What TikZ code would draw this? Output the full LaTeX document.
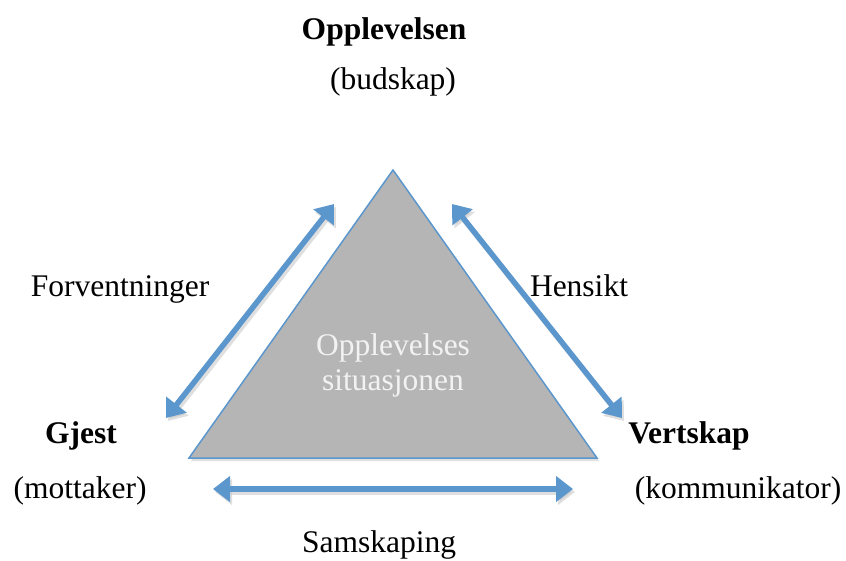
\documentclass[tikz,border=0pt]{standalone}
\usepackage{fontspec}
\setmainfont{Liberation Serif}
\usetikzlibrary{arrows.meta}
\definecolor{arrblue}{RGB}{91,150,205}
\definecolor{trigray}{RGB}{181,181,181}
\definecolor{lighttext}{RGB}{242,242,242}
\begin{document}
\begin{tikzpicture}[x=1pt,y=-1pt,
  lbl/.style={anchor=base,inner sep=0pt,font=\fontsize{31.5}{36}\selectfont},
  blbl/.style={lbl,font=\fontsize{31.5}{36}\selectfont\bfseries},
  inlbl/.style={lbl,text=lighttext},
  dbl/.style={draw=arrblue,line width=5.5pt,
    {Triangle[length=17pt,width=25pt]}-{Triangle[length=17pt,width=25pt]}},
  shadowline/.style={draw=black!25,line width=5.5pt,opacity=0.5,
    {Triangle[length=17pt,width=25pt]}-{Triangle[length=17pt,width=25pt]}}]
\useasboundingbox (0,0) rectangle (846,560);
% triangle
\coordinate (apex) at (393,170);
\coordinate (bl) at (189,458);
\coordinate (br) at (597,458);
\fill[black!20,opacity=0.6] ([shift={(2,3)}]apex) -- ([shift={(2,3)}]br) -- ([shift={(2,3)}]bl) -- cycle;
\draw[fill=trigray,draw=arrblue,line width=1.5pt,line join=miter] (apex) -- (br) -- (bl) -- cycle;
% arrow end coordinates
\coordinate (la) at (166,418);
\coordinate (lb) at (334,204);
\coordinate (ra) at (452,204);
\coordinate (rb) at (622,418);
\coordinate (ba) at (213,489);
\coordinate (bb) at (573,489);
% shadows
\path[shadowline] ([shift={(2,3)}]la) -- ([shift={(2,3)}]lb);
\path[shadowline] ([shift={(2,3)}]ra) -- ([shift={(2,3)}]rb);
\path[shadowline] ([shift={(2,3)}]ba) -- ([shift={(2,3)}]bb);
% arrows
\draw[dbl] (la) -- (lb);
\draw[dbl] (ra) -- (rb);
\draw[dbl] (ba) -- (bb);
% labels
\node[blbl] (opp) at (384,39) {Opplevelsen};
\node[lbl] (bud) at (393,89) {(budskap)};
\node[lbl] (forv) at (120,296) {Forventninger};
\node[lbl] (hens) at (579,296) {Hensikt};
\node[blbl] (gjest) at (81,443) {Gjest};
\node[lbl] (mott) at (80,498) {(mottaker)};
\node[blbl] (vert) at (689,443) {Vertskap};
\node[lbl] (komm) at (738,498) {(kommunikator)};
\node[lbl] (sams) at (379,552) {Samskaping};
\node[inlbl] (in1) at (393,355) {Opplevelses};
\node[inlbl] (in2) at (393,390) {situasjonen};
\end{tikzpicture}
\end{document}
